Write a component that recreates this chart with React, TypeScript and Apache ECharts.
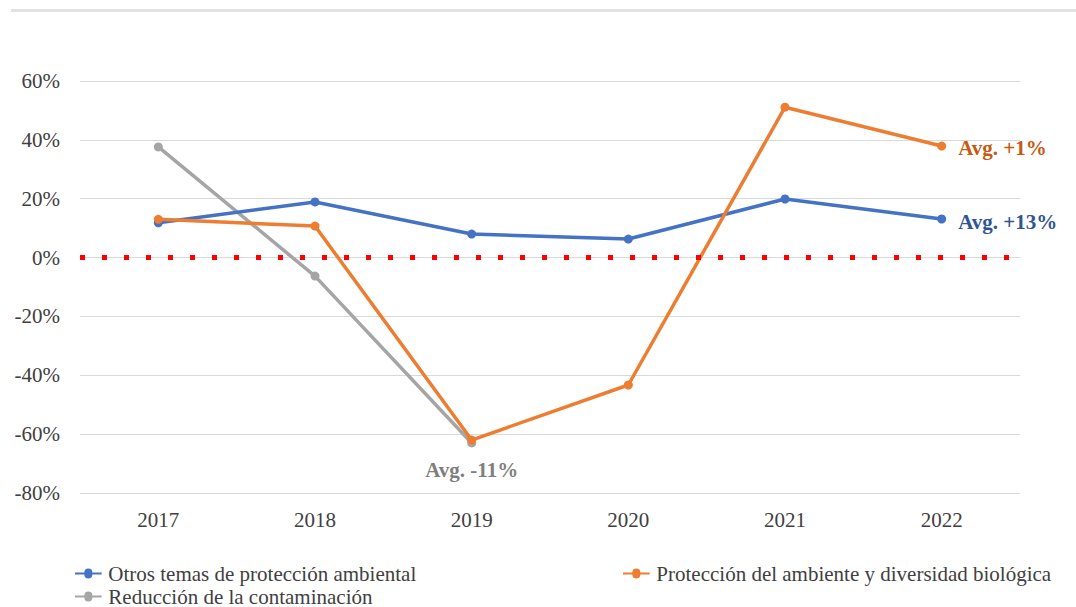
import React, { useEffect, useRef } from "react";
import * as echarts from "echarts";

const years = ["2017", "2018", "2019", "2020", "2021", "2022"];
const otrosTemas = [11.8, 18.9, 8.0, 6.3, 19.9, 13.1];
const proteccion = [13.0, 10.7, -62.0, -43.3, 51.1, 37.9];
const reduccion = [37.6, -6.3, -63.0, null, null, null];
const yTicks = { min: -80, max: 60, interval: 20 };

const nameBlue = "Otros temas de protección ambiental";
const nameOrange = "Protección del ambiente y diversidad biológica";
const nameGray = "Reducción de la contaminación";

const FONT = "Liberation Serif";
const FS = 21;

export default function App() {
  const ref = useRef<HTMLDivElement>(null);
  useEffect(() => {
    if (!ref.current) return;
    const chart = echarts.init(ref.current, undefined, { renderer: "svg" });
    const annot = (text: string, color: string, position: string, offsetY = 0) => ({
      show: true,
      formatter: text,
      position,
      distance: 12,
      offset: [0, offsetY],
      color,
      fontFamily: FONT,
      fontSize: FS,
      fontWeight: "bold",
    });
    const legendBase = {
      icon: "path://M0,4.5 L14,4.5 A4.5,4.5 0 1 1 26,4.5 L40,4.5 L40,7.5 L26,7.5 A4.5,4.5 0 1 1 14,7.5 L0,7.5 Z",
      itemWidth: 38,
      itemHeight: 10,
      itemGap: 2,
      padding: 0,
      textStyle: {
        fontFamily: FONT,
        fontSize: 21,
        lineHeight: 18,
        color: "#404040",
        padding: [0, 0, 0, -4],
      },
      orient: "horizontal",
    };
    chart.setOption({
      animation: false,
      backgroundColor: "#ffffff",
      textStyle: { fontFamily: FONT },
      grid: { left: 80, right: 56, top: 81, bottom: 114 },
      graphic: [
        {
          type: "rect",
          shape: { x: 11, y: 9, width: 1065, height: 3 },
          style: { fill: "#e2e2e2" },
        },
      ],
      legend: [
        { ...legendBase, data: [nameBlue], left: 75, top: 563 },
        { ...legendBase, data: [nameOrange], left: 623, top: 563 },
        { ...legendBase, data: [nameGray], left: 75, top: 586 },
      ],
      xAxis: {
        type: "category",
        data: years,
        boundaryGap: true,
        axisLine: { lineStyle: { color: "#d9d9d9", width: 1 } },
        axisTick: { show: false },
        axisLabel: { fontFamily: FONT, fontSize: FS, color: "#404040", margin: 16 },
      },
      yAxis: {
        type: "value",
        min: yTicks.min,
        max: yTicks.max,
        interval: yTicks.interval,
        axisLine: { show: false },
        axisTick: { show: false },
        splitLine: { lineStyle: { color: "#d9d9d9", width: 1 } },
        axisLabel: {
          fontFamily: FONT,
          fontSize: FS,
          color: "#404040",
          margin: 20,
          formatter: "{value}%",
        },
      },
      series: [
        {
          name: nameBlue,
          type: "line",
          data: otrosTemas.map((v, i) =>
            i === otrosTemas.length - 1 ? { value: v, label: annot("Avg. +13%", "#2F5597", "right", 3) } : v
          ),
          color: "#4472C4",
          lineStyle: { width: 3.5 },
          symbol: "circle",
          symbolSize: 9,
          z: 3,
          markLine: {
            silent: true,
            symbol: "none",
            label: { show: false },
            lineStyle: { color: "#ff0000", type: [5, 17], width: 5, cap: "butt" },
            data: [{ yAxis: 0 }],
          },
        },
        {
          name: nameOrange,
          type: "line",
          data: proteccion.map((v, i) =>
            i === proteccion.length - 1 ? { value: v, label: annot("Avg. +1%", "#C55A11", "right", 2) } : v
          ),
          color: "#ED7D31",
          lineStyle: { width: 3.5 },
          symbol: "circle",
          symbolSize: 9,
          z: 4,
        },
        {
          name: nameGray,
          type: "line",
          data: reduccion.map((v, i) =>
            i === 2 ? { value: v, label: annot("Avg. -11%", "#7F7F7F", "bottom") } : v
          ),
          color: "#A5A5A5",
          lineStyle: { width: 3.5 },
          symbol: "circle",
          symbolSize: 9,
          z: 2,
        },
      ],
    });
    return () => chart.dispose();
  }, []);
  return (
    <div
      ref={ref}
      style={{ position: "fixed", left: 0, top: 0, width: 1076, height: 607, background: "#fff" }}
    />
  );
}
